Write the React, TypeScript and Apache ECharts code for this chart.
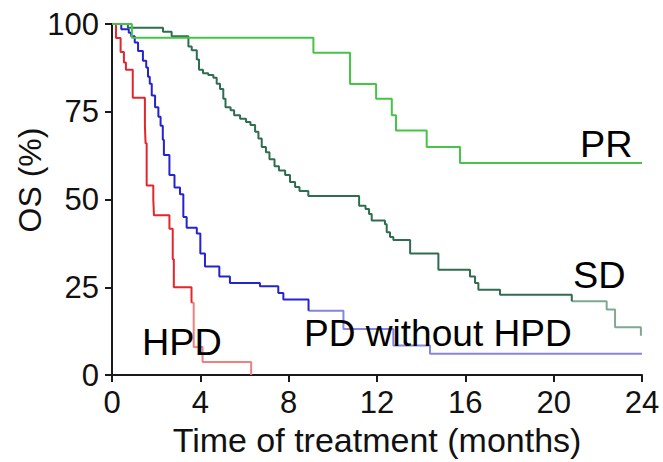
import React, { useEffect, useRef } from "react";
import * as echarts from "echarts";

// Kaplan–Meier step data: [month, OS %]
const hpd: [number, number][] = [
  [0, 100], [0.18, 96], [0.39, 92], [0.54, 89], [0.63, 87], [0.94, 79],
  [1.49, 71], [1.52, 66], [1.57, 54], [1.87, 50], [1.9, 45.5], [2.6, 41.7],
  [2.75, 33], [2.8, 25], [3.6, 20.6], [3.7, 8], [4.1, 3.7], [6.3, 0],
];
const pdWithoutHpd: [number, number][] = [
  [0, 100], [0.42, 98.5], [0.76, 97.5], [0.87, 96.5], [1.03, 94.7], [1.18, 92.3],
  [1.4, 89.5], [1.55, 87.6], [1.63, 85], [1.71, 83], [1.8, 79.6], [1.95, 76.3],
  [2.1, 73.6], [2.2, 71], [2.3, 67], [2.35, 62.7], [2.6, 57], [2.83, 53.4],
  [3.08, 51.5], [3.23, 45], [3.38, 42], [3.84, 40.3], [4.0, 34.6], [4.21, 30.9],
  [4.86, 28.1], [5.34, 26.2], [6.7, 25.3], [7.53, 23.4], [7.76, 21.5], [8.9, 18.3],
  [10.48, 13.1], [12.74, 8.4], [14.4, 6.1], [24, 6.1],
];
const sd: [number, number][] = [
  [0, 100], [0.72, 98.9], [2.31, 97.8], [2.7, 96.5], [3.46, 93.6], [3.61, 92.5],
  [3.84, 89.9], [3.94, 87], [4.12, 86], [4.36, 85.5], [4.59, 84.7], [4.74, 83],
  [4.89, 81.5], [5.04, 78.7], [5.14, 76.3], [5.37, 75.4], [5.53, 74], [5.8, 73],
  [6.07, 72.1], [6.27, 71.2], [6.48, 69.3], [6.63, 67.4], [6.78, 65], [6.97, 63.5],
  [7.13, 61.5], [7.36, 59.5], [7.56, 58.3], [7.84, 57], [8.06, 55], [8.29, 53.6],
  [8.49, 52.4], [8.89, 51], [11.19, 48.2], [11.48, 47.3], [11.64, 45.9], [11.76, 44],
  [12.36, 43], [12.44, 40.7], [12.59, 39.3], [12.74, 38.5], [13.5, 34.6], [14.78, 30],
  [16.21, 28.1], [16.44, 26.2], [16.59, 24.3], [17.57, 22.9], [20.82, 21], [22.4, 18.7],
  [22.78, 13.6], [23.95, 11.2],
];
const pr: [number, number][] = [
  [0, 100], [0.9, 96.1], [9.12, 91.8], [10.78, 82.9], [11.96, 78.7], [12.67, 74],
  [12.86, 69.7], [14.25, 65], [15.76, 60.4], [24, 60.4],
];
const xTicks = { min: 0, max: 24, interval: 4 };
const yTicks = { min: 0, max: 100, interval: 25 };
const groupLabels = ["PR", "SD", "PD without HPD", "HPD"];
const xName = "Time of treatment (months)";
const yName = "OS (%)";

const FONT = "Liberation Sans, Arial, sans-serif";

// split a step curve into an early (dense) part and a late (faded) part
function splitAt(data: [number, number][], x: number) {
  const early = data.filter((p) => p[0] <= x);
  const late = data.slice(early.length - 1);
  return [early, late];
}

export default function App() {
  const ref = useRef<HTMLDivElement>(null);
  useEffect(() => {
    document.body.style.margin = "0";
    if (!ref.current) return;
    const chart = echarts.init(ref.current, null, { renderer: "svg" });
    const axisCommon = {
      type: "value" as const,
      axisLine: { show: true, onZero: false, lineStyle: { color: "#1a1a1a", width: 2 } },
      axisTick: { show: true, length: 7, lineStyle: { color: "#1a1a1a", width: 2 } },
      splitLine: { show: false },
    };
    const line = (name: string, data: [number, number][], color: string) => ({
      name,
      type: "line" as const,
      step: "end" as const,
      data,
      showSymbol: false,
      symbol: "none",
      lineStyle: { width: 2, color },
      itemStyle: { color },
    });
    const label = (text: string, x: number, y: number, sx: number) => ({
      type: "text" as const,
      x,
      y,
      scaleX: sx,
      style: {
        text,
        font: `36px ${FONT}`,
        fill: "#000",
        textAlign: "left",
        textVerticalAlign: "middle",
      },
      z: 100,
    });
    const [pdA, pdB] = splitAt(pdWithoutHpd, 8.9);
    const [hA, hB] = splitAt(hpd, 3.6);
    const [sA, sB] = splitAt(sd, 20.82);
    chart.setOption({
      animation: false,
      backgroundColor: "#fff",
      grid: { left: 112, right: 21, top: 24, bottom: 82, containLabel: false },
      xAxis: {
        ...axisCommon,
        ...xTicks,
        name: xName,
        nameLocation: "middle",
        nameGap: 42,
        nameTextStyle: { fontSize: 34, color: "#111", fontFamily: FONT },
        axisLabel: { fontSize: 31, color: "#111", margin: 12, fontFamily: FONT },
      },
      yAxis: {
        ...axisCommon,
        ...yTicks,
        axisLabel: { fontSize: 31, color: "#111", margin: 13, fontFamily: FONT },
      },
      series: [
        line("PD without HPD", pdB, "#8585e3"),
        line("PD without HPD", pdA, "#2424cf"),
        line("HPD", hB, "#f08080"),
        line("HPD", hA, "#e3262b"),
        line("SD", sB, "#80a892"),
        line("SD", sA, "#2f6d50"),
        line("PR", pr, "#45c445"),
      ],
      graphic: [
        {
          type: "text",
          x: 30,
          y: 180,
          rotation: Math.PI / 2,
          style: {
            text: yName,
            font: `32px ${FONT}`,
            fill: "#111",
            textAlign: "center",
            textVerticalAlign: "middle",
          },
        },
        label(groupLabels[0], 580, 145, 1.05),
        label(groupLabels[1], 573, 276, 1.05),
        label(groupLabels[2], 304, 334, 1.03),
        label(groupLabels[3], 142, 343, 1.05),
      ],
    });
    return () => chart.dispose();
  }, []);
  return <div ref={ref} style={{ width: 663, height: 462 }} />;
}
